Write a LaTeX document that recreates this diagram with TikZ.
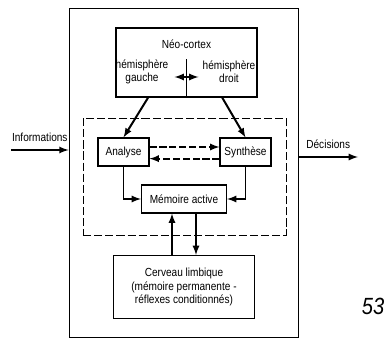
\documentclass[tikz,border=0pt]{standalone}
\usepackage{fontspec}
\setmainfont{Liberation Sans}[FakeStretch=0.86]
\usetikzlibrary{positioning}

\begin{document}
\begin{tikzpicture}[x=0.03cm, y=-0.03cm, font=\fontsize{10}{11.5}\selectfont,
    box/.style={draw, line width=0.9pt, align=center, inner sep=0pt},
    arr/.style={line width=1.7pt, -latex},
    darr/.style={line width=1.7pt, -latex, dash pattern=on 6pt off 2.5pt}]
            \useasboundingbox (0,0) rectangle (390,341);

            % Boxes
            \node[box, line width=0.7pt, minimum width=6.87cm, minimum height=9.87cm] (outer) at (183.5,172.5) {};
            \node[draw, line width=0.8pt, dash pattern=on 7pt off 2.5pt, minimum width=6.09cm, minimum height=3.51cm] (zone) at (184.5,176.5) {};
            \node[box, minimum width=4.23cm, minimum height=2.07cm] (neo) at (186.5,62.5) {};
            \node[box, minimum width=1.53cm, minimum height=0.84cm] (analyse) at (123.5,152) {Analyse};
            \node[box, minimum width=1.53cm, minimum height=0.84cm] (synthese) at (245.5,152) {Synthèse};
            \node[box, minimum width=2.55cm, minimum height=0.84cm] (memoire) at (184,199) {Mémoire active};
            \node[box, minimum width=4.23cm, minimum height=1.89cm] (cerveau) at (184,287) {Cerveau limbique\\(mémoire permanente -\\réflexes conditionnés)};

            % Texts of the neo-cortex
            \node (titre) at (186.5,44) {Néo-cortex};
            \node[align=center] (gauche) at (142,72) {hémisphère\\gauche};
            \node[align=center] (droit) at (229,72) {hémisphère\\droit};
            \coordinate (mid) at (186.5,77);

            % Lines
            \draw[line width=1.4pt] (neo.south) -- ++(0,-39);
            \draw[line width=1.7pt, latex-latex] ([xshift=-0.36cm]mid) -- ([xshift=0.36cm]mid);
            \draw[arr] ([xshift=-1.15cm]neo.south) -- (analyse.north);
            \draw[arr] ([xshift=1.07cm]neo.south) -- (synthese.north);
            \draw[darr] ([yshift=0.15cm]analyse.east) -- ([yshift=0.15cm]synthese.west);
            \draw[darr] ([yshift=-0.2cm]synthese.east -| synthese.west) -- ([yshift=-0.2cm]analyse.east);
            \draw[arr] (analyse.south) |- (memoire.west);
            \draw[arr] (synthese.south) |- (memoire.east);
            \draw[arr] ([xshift=-0.36cm]cerveau.north) -- ([xshift=-0.36cm]memoire.south);
            \draw[arr] ([xshift=0.36cm]memoire.south) -- ([xshift=0.36cm]cerveau.north);

            % Inputs and outputs
            \coordinate (info) at (11,150);
            \coordinate (dec) at (358,157);
            \draw[arr] (info) -- (outer.west |- info) node[midway, above=3pt] (infolabel) {Informations};
            \draw[arr] (outer.east |- dec) -- (dec) node[midway, above=3pt] (declabel) {Décisions};

            \node[font=\fontsize{20}{20}\selectfont\itshape] (page) at (373,306) {53};
        \end{tikzpicture}
\end{document}
